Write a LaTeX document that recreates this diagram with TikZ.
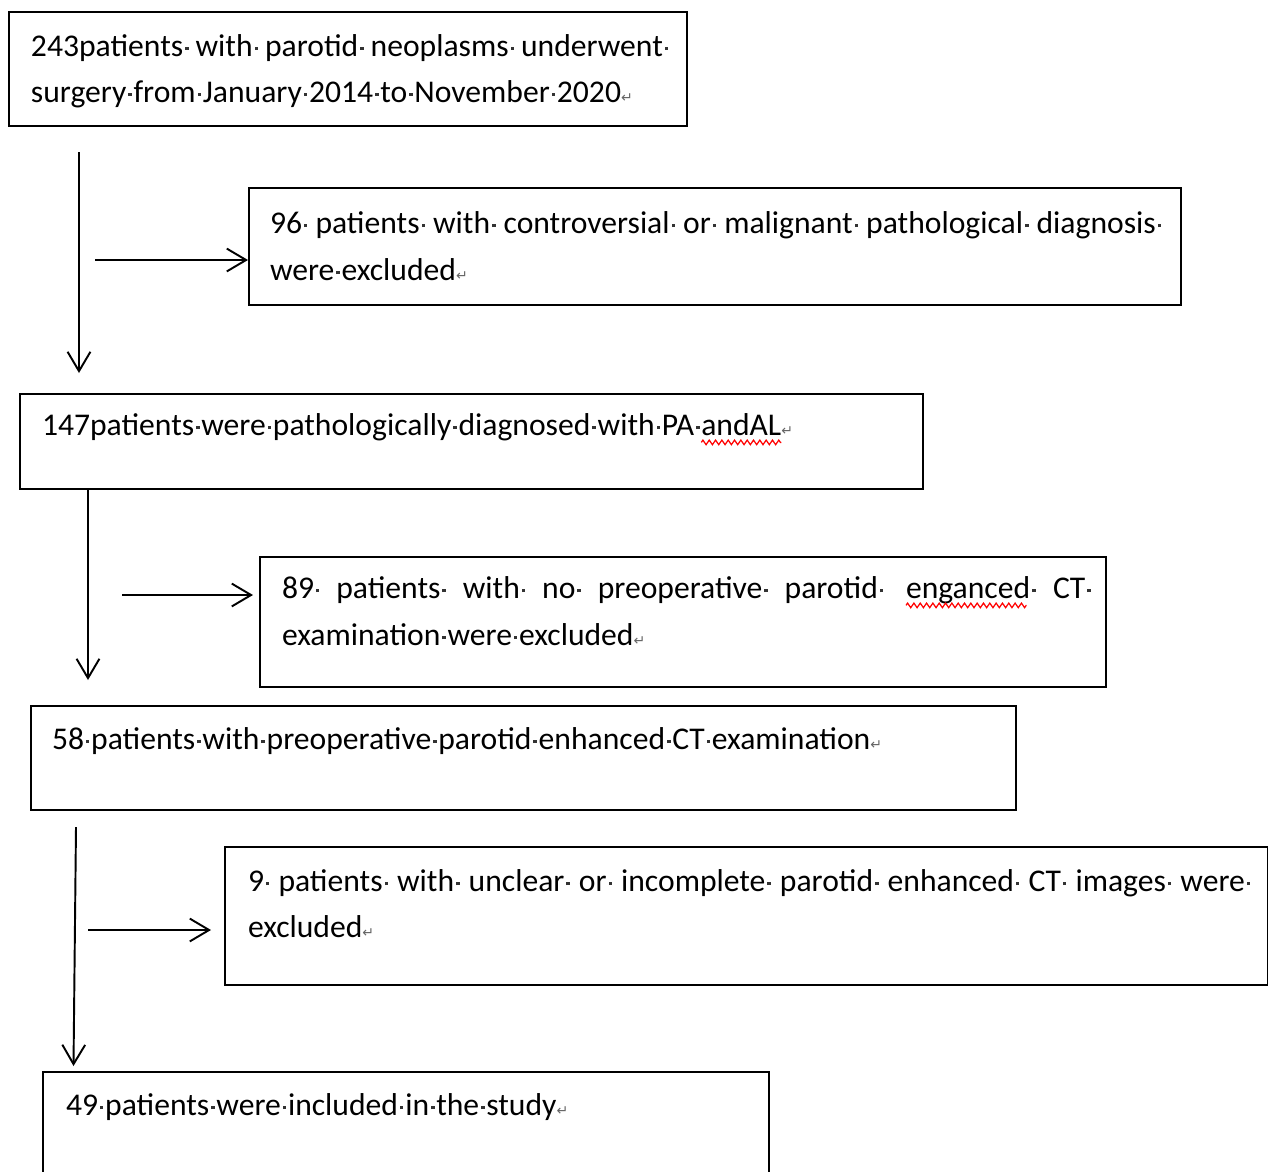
\documentclass[tikz,border=0pt]{standalone}
\usepackage{fontspec}
\setmainfont{Carlito}
\newfontfamily\symf{DejaVu Sans}
\usetikzlibrary{arrows.meta,decorations.pathmorphing}
\newcommand\dotmk{\rlap{\hspace{0.06em}\textcolor{black!80}{\raisebox{0.19em}{\rule{0.11em}{0.11em}}}}}
\newcommand\ws{\dotmk\space}
\newcommand\rmk{{\symf\fontsize{8}{8}\selectfont\textcolor{black!60}{↵}}}
\tikzset{
  box/.style={draw, line width=1.1pt, inner sep=0pt, anchor=north west},
  txt/.style={anchor=base west, inner sep=0pt, outer sep=0pt, font=\fontsize{18}{22}\selectfont},
  arr/.style={line width=1.1pt, -{Straight Barb[length=11pt,width=13pt]}},
  wave/.style={red, line width=0.7pt, decorate, decoration={zigzag, amplitude=1.3pt, segment length=3.6pt}}
}
\begin{document}
\begin{tikzpicture}[x=0.02cm, y=-0.02cm]
\clip (0,0) rectangle (1268,1171);
\fill[white] (0,0) rectangle (1268,1171);
% boxes
\node[box, minimum width=13.56cm, minimum height=2.28cm] (b1) at (8,11) {};
\node[box, minimum width=18.64cm, minimum height=2.34cm] (b2) at (248,187) {};
\node[box, minimum width=18.06cm, minimum height=1.90cm] (b3) at (19,393) {};
\node[box, minimum width=16.92cm, minimum height=2.60cm] (b4) at (259,556) {};
\node[box, minimum width=19.70cm, minimum height=2.08cm] (b5) at (30,705) {};
\node[box, minimum width=20.86cm, minimum height=2.76cm] (b6) at (224,846) {};
\node[box, minimum width=14.52cm, minimum height=2.60cm] (b7) at (42,1071) {};
% texts
\node[txt] (t1a) at (31,56) {\makebox[12.64cm][s]{243patients\ws with\ws parotid\ws neoplasms\ws underwent\dotmk}};
\node[txt] (t1b) at (31,102) {surgery\ws from\ws January\ws 2014\ws to\ws November\ws 2020\rmk};
\node[txt] (t2a) at (270,233) {\makebox[17.72cm][s]{96\ws patients\ws with\ws controversial\ws or\ws malignant\ws pathological\ws diagnosis\dotmk}};
\node[txt] (t2b) at (270,280) {were\ws excluded\rmk};
\node[txt] (t3) at (42,435) {147patients\ws were\ws pathologically\ws diagnosed\ws with\ws PA\dotmk};
\node[txt] (w1) at ([xshift=4.07pt]t3.base east) {andAL};
\node[txt] (r3) at (w1.base east) {\rmk};
\node[txt] (t4a) at (282,598) {\makebox[11.92cm][s]{89\ws patients\ws with\ws no\ws preoperative\ws parotid\dotmk}};
\node[txt] (w2) at (906,598) {enganced\dotmk};
\node[txt] (t4c) at (1053,598) {CT\dotmk};
\node[txt] (t4b) at (282,645) {examination\ws were\ws excluded\rmk};
\node[txt] (t5) at (52,749) {58\ws patients\ws with\ws preoperative\ws parotid\ws enhanced\ws CT\ws examination\rmk};
\node[txt] (t6a) at (248,891) {\makebox[19.94cm][s]{9\ws patients\ws with\ws unclear\ws or\ws incomplete\ws parotid\ws enhanced\ws CT\ws images\ws were\dotmk}};
\node[txt] (t6b) at (248,937) {excluded\rmk};
\node[txt] (t7) at (66,1115) {49\ws patients\ws were\ws included\ws in\ws the\ws study\rmk};
% spelling waves
\draw[wave] ([yshift=-4.2pt]w1.base west) -- ([yshift=-4.2pt]w1.base east);
\draw[wave] ([yshift=-4.2pt]w2.base west) -- ([xshift=-2pt,yshift=-4.2pt]w2.base east);
% connectors
\coordinate (v1s) at (79,152);
\coordinate (v1e) at (79,373);
\coordinate (h1s) at (95,260);
\coordinate (v2s) at (88,488);
\coordinate (v2e) at (88,680);
\coordinate (h2s) at (122,595);
\coordinate (h2e) at (253,595);
\coordinate (v3s) at (76,827);
\coordinate (v3e) at (73.5,1066);
\coordinate (h3s) at (88,930);
\coordinate (h3e) at (211,930);
\draw[arr] (v1s) -- (v1e);
\draw[arr] (h1s) -- (h1s -| b2.west);
\draw[arr] (v2s) -- (v2e);
\draw[arr] (h2s) -- (h2e);
\draw[arr] (v3s) -- (v3e);
\draw[arr] (h3s) -- (h3e);
\end{tikzpicture}
\end{document}
